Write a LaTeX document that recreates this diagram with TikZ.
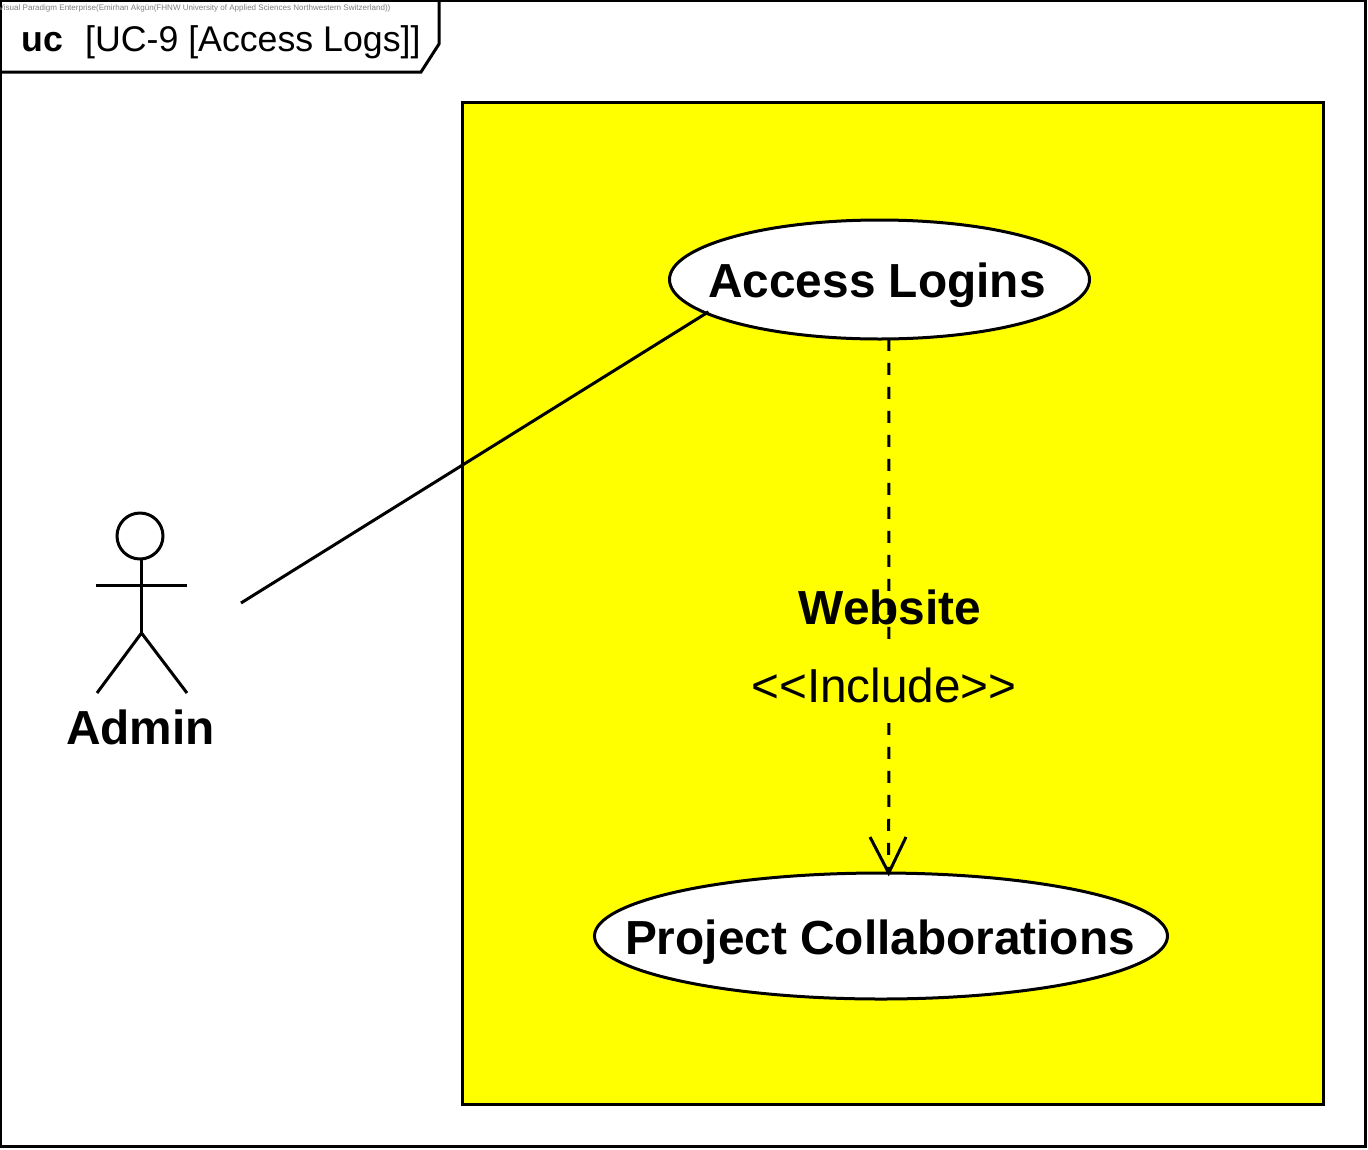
\documentclass[tikz,border=0pt]{standalone}
\usepackage{fontspec}
\setmainfont{Liberation Sans}
\usetikzlibrary{shapes.geometric}
\definecolor{sysyellow}{RGB}{255,255,0}
\tikzset{
  ln/.style={line width=3pt,draw=black,line cap=butt},
  usecase/.style={ellipse,draw=black,fill=white,line width=3pt,inner sep=0pt,outer sep=0pt},
  big/.style={font=\fontsize{47.8}{50}\selectfont\bfseries},
  bigreg/.style={font=\fontsize{47.7}{50}\selectfont},
  titlef/.style={font=\fontsize{35.7}{38}\selectfont},
  tiny/.style={font=\fontsize{8.05}{9}\selectfont,text=black!50},
  lbl/.style={anchor=base,inner sep=0pt,outer sep=0pt},
  dep/.style={line width=3pt,draw=black,dash pattern=on 12pt off 12pt}
}
\begin{document}
\begin{tikzpicture}[x=1pt,y=-1pt]
\useasboundingbox (0,0) rectangle (1368,1149);
\fill[white] (0,0) rectangle (1368,1149);
% frame
\draw[ln] (0.5,0.5) rectangle (1365.5,1146);
\draw[ln,line join=miter] (0.5,72) -- (421,72) -- (439,44) -- (439,0.5);
\node[tiny,anchor=base west,inner sep=0pt] (credit) at (-1.5,10) {Visual Paradigm Enterprise(Emirhan Akgün(FHNW University of Applied Sciences Northwestern Switzerland))};
\node[anchor=base west,inner sep=0pt,font=\fontsize{35.7}{38}\selectfont\bfseries] (uc) at (21.5,51) {uc};
\node[titlef,anchor=base west,inner sep=0pt] (title) at (85,51) {[UC-9 [Access Logs]]};
% system
\node[draw=black,fill=sysyellow,line width=3pt,minimum width=861pt,minimum height=1002pt,inner sep=0pt,outer sep=0pt,anchor=north west] (system) at (462.5,102.5) {};
% use cases
\node[usecase,minimum width=420pt,minimum height=119pt] (ac) at (879.5,279.5) {};
\node[usecase,minimum width=573pt,minimum height=126pt] (pc) at (881,936) {};
\node[big,lbl] (aclbl) at (877,297) {Access Logins};
\node[big,lbl] (pclbl) at (880,954) {Project Collaborations};
% actor
\coordinate (actorend) at (241,603);
\coordinate (neck) at (141.5,559);
\coordinate (hip) at (141.5,633);
\node[circle,draw=black,line width=3pt,minimum size=46pt,inner sep=0pt,outer sep=0pt] (head) at (140,536) {};
\draw[ln] (head.south -| neck) -- (hip);
\draw[ln] (96,585) -- (187,585);
\draw[ln,line join=round] (97,693) -- (hip) -- (187,693);
\node[big,lbl] (admin) at (140.5,744) {Admin};
% connectors
\draw[ln,shorten >=-2.5pt] (actorend) -- (ac.191.8);
\draw[dep] (ac.279) -- (pc.83.6);
\draw[ln,line join=miter] (870,837) -- (pc.83.6) -- (906,837);
\node[bigreg,lbl,fill=sysyellow,text height=62pt,text depth=21pt] (inc) at (884,702) {<{}<Include>{}>};
\node[big,lbl] (web) at (890,624) {Website};
\end{tikzpicture}
\end{document}
